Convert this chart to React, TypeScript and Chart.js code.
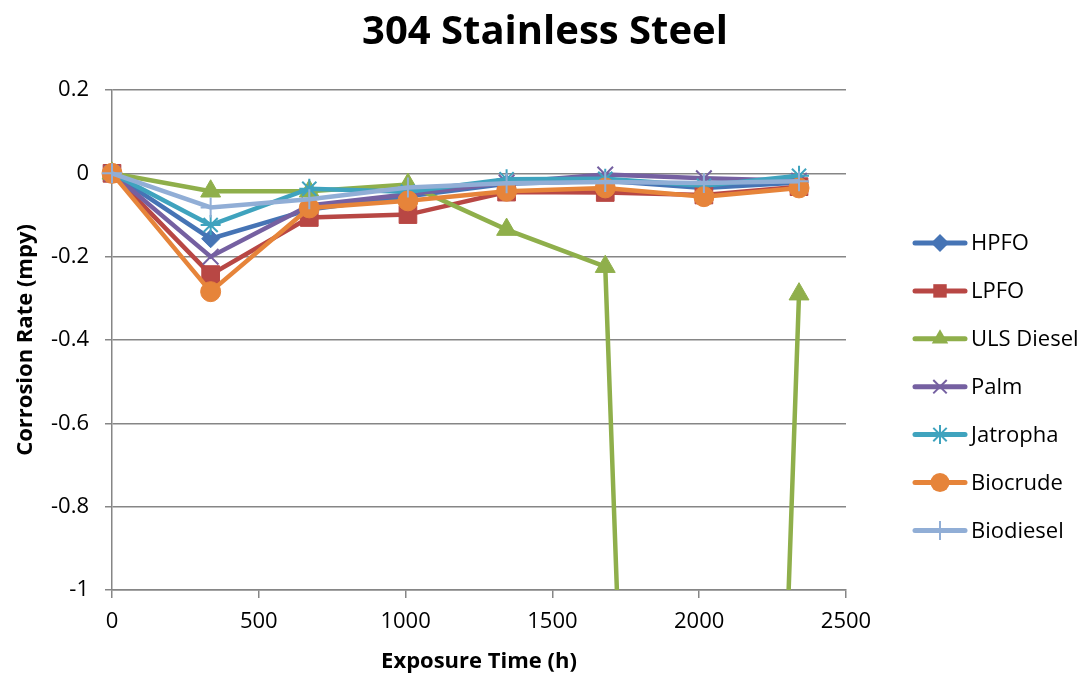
import React, { useEffect, useRef } from "react";
import { Chart, registerables } from "chart.js";

Chart.register(...registerables);

const exposureHours = [0, 336, 672, 1008, 1344, 1680, 2016, 2340];
const seriesNames = ["HPFO", "LPFO", "ULS Diesel", "Palm", "Jatropha", "Biocrude", "Biodiesel"];
const hpfo = [0, -0.157, -0.087, -0.055, -0.025, -0.018, -0.035, -0.022];
const lpfo = [0, -0.243, -0.106, -0.099, -0.045, -0.046, -0.052, -0.032];
const ulsDiesel = [0, -0.043, -0.043, -0.027, -0.135, -0.224, -6.8, -0.29];
const palm = [0, -0.2, -0.077, -0.05, -0.022, -0.003, -0.012, -0.018];
const jatropha = [0, -0.124, -0.037, -0.044, -0.014, -0.013, -0.03, -0.006];
const biocrude = [0, -0.284, -0.083, -0.066, -0.043, -0.035, -0.056, -0.035];
const biodiesel = [0, -0.082, -0.062, -0.034, -0.024, -0.021, -0.023, -0.019];
const xTicks = [0, 500, 1000, 1500, 2000, 2500];
const yTicks = [0.2, 0, -0.2, -0.4, -0.6, -0.8, -1];

const seriesValues = [hpfo, lpfo, ulsDiesel, palm, jatropha, biocrude, biodiesel];
const colors = ["#4674B5", "#B84744", "#8FAF4B", "#7560A1", "#3FA3BE", "#E6843A", "#91AED6"];
const markers = ["rectRot", "rect", "triangle", "crossRot", "star", "circle", "cross"];
const radii = [9, 12.5, 11.5, 11, 10, 10, 10];

const FONT = "'Open Sans', 'DejaVu Sans', sans-serif";

function drawMarker(ctx: CanvasRenderingContext2D, style: string, x: number, y: number, r: number, color: string) {
  ctx.save();
  ctx.fillStyle = color;
  ctx.strokeStyle = color;
  ctx.lineWidth = 2;
  ctx.beginPath();
  if (style === "circle") {
    ctx.arc(x, y, r, 0, Math.PI * 2);
    ctx.fill();
  } else if (style === "rect") {
    const s = r * Math.SQRT1_2;
    ctx.rect(x - s, y - s, 2 * s, 2 * s);
    ctx.fill();
  } else if (style === "rectRot") {
    ctx.moveTo(x, y - r);
    ctx.lineTo(x + r, y);
    ctx.lineTo(x, y + r);
    ctx.lineTo(x - r, y);
    ctx.closePath();
    ctx.fill();
  } else if (style === "triangle") {
    ctx.moveTo(x, y - r);
    ctx.lineTo(x + r * 0.866, y + r * 0.5);
    ctx.lineTo(x - r * 0.866, y + r * 0.5);
    ctx.closePath();
    ctx.fill();
  } else if (style === "crossRot" || style === "star" || style === "cross") {
    if (style !== "cross") {
      const d = r * Math.SQRT1_2;
      ctx.moveTo(x - d, y - d);
      ctx.lineTo(x + d, y + d);
      ctx.moveTo(x - d, y + d);
      ctx.lineTo(x + d, y - d);
    }
    if (style !== "crossRot") {
      ctx.moveTo(x, y - r);
      ctx.lineTo(x, y + r);
      ctx.moveTo(x - r, y);
      ctx.lineTo(x + r, y);
    }
    ctx.stroke();
  }
  ctx.restore();
}

const legendPlugin = {
  id: "excelLegend",
  afterDraw(chart: any) {
    const ctx = chart.ctx as CanvasRenderingContext2D;
    const startY = 243;
    const step = 47.9;
    chart.data.datasets.forEach((ds: any, i: number) => {
      const y = startY + i * step;
      ctx.save();
      ctx.strokeStyle = colors[i];
      ctx.lineWidth = 5;
      ctx.lineCap = "round";
      ctx.beginPath();
      ctx.moveTo(915, y);
      ctx.lineTo(965, y);
      ctx.stroke();
      ctx.restore();
      drawMarker(ctx, markers[i], 940, y, Math.min(radii[i], 9.5), colors[i]);
      ctx.save();
      ctx.fillStyle = "#000";
      ctx.font = `22px ${FONT}`;
      ctx.textBaseline = "middle";
      ctx.textAlign = "left";
      ctx.fillText(ds.label, 971, y + 1);
      ctx.restore();
    });
  },
};

export default function App() {
  const canvasRef = useRef<HTMLCanvasElement | null>(null);

  useEffect(() => {
    if (!canvasRef.current) return;
    const datasets = seriesNames.map((name, i) => ({
      label: name,
      data: exposureHours.map((x, j) => ({ x, y: seriesValues[i][j] })),
      borderColor: colors[i],
      backgroundColor: colors[i],
      borderWidth: 4.5,
      pointStyle: markers[i],
      pointRadius: radii[i],
      pointHoverRadius: radii[i],
      pointBorderWidth: markers[i] === "crossRot" || markers[i] === "star" || markers[i] === "cross" ? 2 : 1,
      pointBorderColor: colors[i],
      pointBackgroundColor: colors[i],
      tension: 0,
      order: seriesNames.length - i,
      clip: { left: 30, top: 30, right: 30, bottom: 0 },
    }));

    const chart = new Chart(canvasRef.current, {
      type: "line",
      data: { datasets },
      plugins: [legendPlugin],
      options: {
        animation: false,
        responsive: false,
        maintainAspectRatio: false,
        layout: { padding: { left: 0, right: 0, top: 0, bottom: 0 } },
        plugins: {
          legend: { display: false },
          tooltip: { enabled: false },
          title: {
            display: true,
            text: "304 Stainless Steel",
            color: "#000",
            font: { family: FONT, size: 40, weight: "bold", lineHeight: 1.2 },
            padding: { top: 9, bottom: 90 - 9 - 40 * 1.2 },
          },
        },
        scales: {
          x: {
            type: "linear",
            min: 0,
            max: 2500,
            afterBuildTicks: (scale: any) => {
              scale.ticks = xTicks.map((v) => ({ value: v }));
            },
            afterFit: (scale: any) => {
              scale.height = 87;
            },
            ticks: {
              color: "#000",
              font: { family: FONT, size: 22 },
              padding: 11,
              maxRotation: 0,
              callback: (v: any) => String(v),
            },
            grid: {
              drawOnChartArea: false,
              drawTicks: true,
              tickLength: 8,
              color: "#868686",
              lineWidth: 1.5,
            },
            border: { display: true, color: "#868686", width: 1.5 },
            title: {
              display: true,
              text: "Exposure Time (h)",
              color: "#000",
              font: { family: FONT, size: 22, weight: "bold", lineHeight: 1.2 },
              padding: { top: 0, bottom: 2 },
            },
          },
          y: {
            type: "linear",
            position: "left",
            min: -1,
            max: 0.2,
            afterBuildTicks: (scale: any) => {
              scale.ticks = yTicks.map((v) => ({ value: v }));
            },
            afterFit: (scale: any) => {
              scale.width = 112;
            },
            ticks: {
              color: "#000",
              font: { family: FONT, size: 22 },
              padding: 16,
              callback: (v: any) => String(Number(Number(v).toFixed(1))),
            },
            grid: {
              drawOnChartArea: true,
              drawTicks: true,
              tickLength: 7,
              color: "#868686",
              lineWidth: 1.5,
            },
            border: { display: true, color: "#868686", width: 1.5 },
            title: {
              display: true,
              text: "Corrosion Rate (mpy)",
              color: "#000",
              font: { family: FONT, size: 22, weight: "bold", lineHeight: 1.2 },
              padding: { top: 13, bottom: 0 },
            },
          },
          legendSpace: {
            type: "linear",
            position: "right",
            display: true,
            afterFit: (scale: any) => {
              scale.width = 1090 - 846;
            },
            ticks: { display: false },
            grid: { display: false, drawOnChartArea: false },
            border: { display: false },
          },
        },
      } as any,
    });
    return () => chart.destroy();
  }, []);

  return (
    <div style={{ position: "fixed", left: 0, top: 0, width: 1090, height: 677, background: "#fff" }}>
      <canvas ref={canvasRef} width={1090} height={677} style={{ width: 1090, height: 677, display: "block" }} />
    </div>
  );
}
